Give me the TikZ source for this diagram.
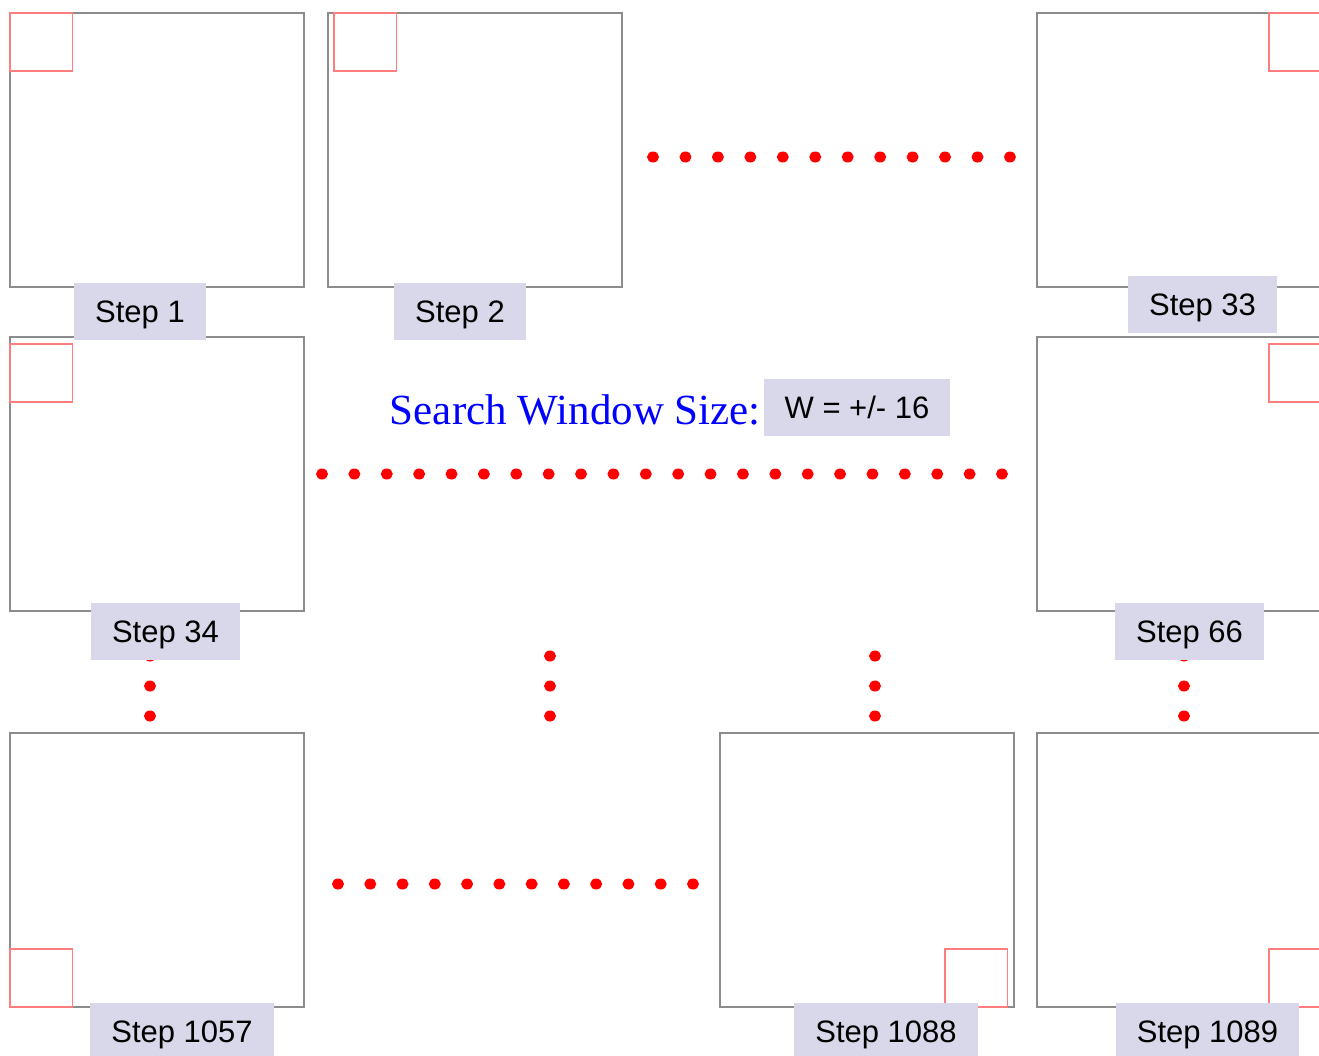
\documentclass[tikz,border=0pt]{standalone}
\usepackage{fontspec}
\setmainfont{Liberation Sans}
\newfontfamily\serifblue{Liberation Serif}
\definecolor{framegray}{RGB}{140,140,140}
\definecolor{winred}{RGB}{255,125,125}
\definecolor{labelbg}{RGB}{216,216,234}
\definecolor{dotred}{RGB}{255,0,0}
\begin{document}
\begin{tikzpicture}[x=1pt,y=-1pt,
  frame/.style={draw=framegray,line width=1.8pt,minimum width=294pt,minimum height=274pt,inner sep=0pt,outer sep=0pt,anchor=north west},
  win/.style={draw=winred,line width=1.4pt},
  steplabel/.style={fill=labelbg,font=\fontsize{31}{37}\selectfont,text height=22.5pt,text depth=0pt,inner xsep=21pt,inner ysep=0pt,minimum height=57pt},
  reddot/.style={fill=dotred}]
\useasboundingbox (0,0) rectangle (1319,1055);
\clip (0,0) rectangle (1319,1055);
% dots
\foreach \i in {0,...,11} \fill[reddot] (653+\i*32.45,157) ellipse (6 and 5.5);
\foreach \i in {0,...,21} \fill[reddot] (322+\i*32.38,474) ellipse (6 and 5.5);
\foreach \i in {0,...,11} \fill[reddot] (338+\i*32.27,884) ellipse (6 and 5.5);
\foreach \x in {150,550,875,1184} \foreach \y in {656,686,716} \fill[reddot] (\x,\y) ellipse (6 and 5.5);
% frames
\node[frame] (f1) at (10,13) {};
\node[frame] (f2) at (328,13) {};
\node[frame] (f33) at (1037,13) {};
\node[frame] (f34) at (10,337) {};
\node[frame] (f66) at (1037,337) {};
\node[frame] (f1057) at (10,733) {};
\node[frame] (f1088) at (720,733) {};
\node[frame] (f1089) at (1037,733) {};
% search windows
\draw[win] ([shift={(0,0)}]f1.north west) rectangle ++(62.5,58);
\draw[win] ([shift={(6,0)}]f2.north west) rectangle ++(62.5,58);
\draw[win] ([shift={(232,0)}]f33.north west) rectangle ++(62.5,58);
\draw[win] ([shift={(0,7)}]f34.north west) rectangle ++(62.5,58);
\draw[win] ([shift={(232,7)}]f66.north west) rectangle ++(62.5,58);
\draw[win] ([shift={(0,216)}]f1057.north west) rectangle ++(62.5,58);
\draw[win] ([shift={(225,216)}]f1088.north west) rectangle ++(62.5,58);
\draw[win] ([shift={(232,216)}]f1089.north west) rectangle ++(62.5,58);
% labels
\node[steplabel] (l1) at (140,311.5) {Step 1};
\node[steplabel] (l2) at (460,311.5) {Step 2};
\node[steplabel] (l33) at (1202.5,304.5) {Step 33};
\node[steplabel] (l34) at (165.5,631.5) {Step 34};
\node[steplabel] (l66) at (1189.5,631.5) {Step 66};
\node[steplabel] (l1057) at (182,1031.5) {Step 1057};
\node[steplabel] (l1088) at (886,1031.5) {Step 1088};
\node[steplabel] (l1089) at (1207.5,1031.5) {Step 1089};
% search window size
\node[steplabel] (wval) at (857,407.5) {W = +/- 16};
\node[anchor=base east,text=blue,font=\serifblue\fontsize{43}{49}\selectfont,inner sep=0pt] (title) at (761,424) {Search Window Size:};
\end{tikzpicture}
\end{document}
